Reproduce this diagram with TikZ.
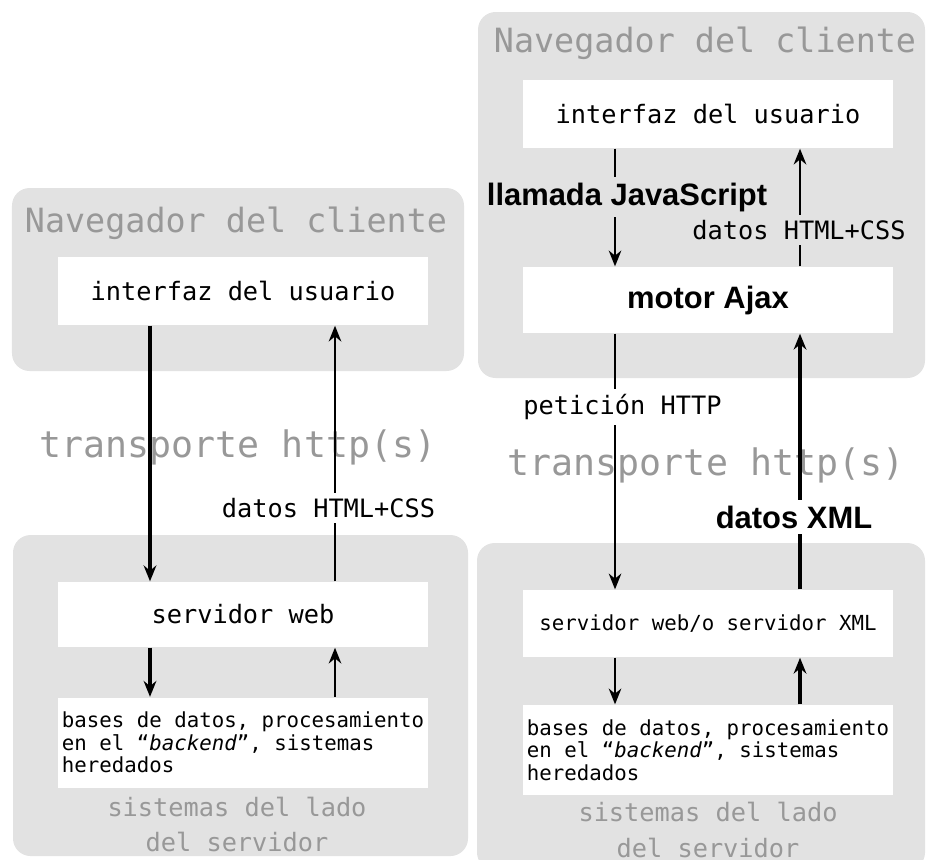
\documentclass[tikz,border=0pt]{standalone}
\usepackage{fontspec}
\setmainfont{DejaVu Sans Mono}
\newfontfamily\heavyfont{Liberation Sans}
\usetikzlibrary{arrows.meta}
\definecolor{panelgray}{RGB}{226,226,226}
\definecolor{textgray}{RGB}{152,152,152}
\tikzset{
  panel/.style={fill=panelgray, rounded corners=5pt},
  whitebox/.style={fill=white, minimum width=3.7cm, inner sep=0pt, font=\fontsize{7.2}{8}\selectfont},
  dbbox/.style={whitebox, minimum height=0.9cm, align=left, font=\fontsize{5.9}{6.4}\selectfont},
  title/.style={text=textgray, font=\fontsize{9.5}{11}\selectfont},
  transp/.style={text=textgray, font=\fontsize{10.4}{12}\selectfont},
  side/.style={text=textgray, align=center, font=\fontsize{7.2}{10}\selectfont},
  lbl/.style={inner sep=1.5pt, font=\fontsize{7.2}{8}\selectfont},
  boldlbl/.style={inner sep=1.5pt, font=\heavyfont\bfseries\fontsize{8.8}{10}\selectfont},
  flow/.style={-{Stealth[length=4.5pt,width=3.6pt]}, line width=0.5pt},
  heavyflow/.style={flow, line width=0.9pt},
}
\begin{document}
\begin{tikzpicture}
    \useasboundingbox (0,0) rectangle (9.28,-8.59);

    % Grey panels
    \fill[panel] (0.12,-1.88) rectangle (4.64,-3.71);
    \fill[panel] (0.13,-5.35) rectangle (4.68,-8.56);
    \fill[panel] (4.78,-0.12) rectangle (9.25,-3.78);
    \fill[panel] (4.77,-5.43) rectangle (9.25,-8.70);

    % Classic model (left)
    \node[title] (nav1) at (2.36,-2.23) {Navegador del cliente};
    \node[whitebox, minimum height=0.68cm] (ui1) at (2.43,-2.91) {interfaz del usuario};
    \node[transp] (trans1) at (2.38,-4.47) {transporte http(s)};
    \node[whitebox, minimum height=0.65cm] (web1) at (2.43,-6.145) {servidor web};
    \node[dbbox] (db1) at (2.43,-7.425) {bases de datos, procesamiento\\en el “\textit{backend}”, sistemas\\heredados};
    \node[side] (side1) at (2.37,-8.245) {sistemas del lado\\del servidor};

    \draw[heavyflow] ([xshift=-0.93cm]ui1.south) -- ([xshift=-0.93cm]web1.north);
    \draw[flow] ([xshift=0.92cm]web1.north) -- ([xshift=0.92cm]ui1.south);
    \draw[heavyflow] ([xshift=-0.93cm]web1.south) -- ([xshift=-0.93cm]db1.north);
    \draw[flow] ([xshift=0.92cm]db1.north) -- ([xshift=0.92cm]web1.south);
    \node[lbl, fill=white] (html1) at (3.285,-5.08) {datos HTML+CSS};

    % Ajax model (right)
    \node[title] (nav2) at (7.05,-0.43) {Navegador del cliente};
    \node[whitebox, minimum height=0.68cm] (ui2) at (7.08,-1.14) {interfaz del usuario};
    \node[whitebox, minimum height=0.66cm, font=\heavyfont\bfseries\fontsize{8.8}{10}\selectfont] (ajax) at (7.08,-3.00) {motor Ajax};
    \node[transp] (trans2) at (7.06,-4.65) {transporte http(s)};
    \node[whitebox, minimum height=0.67cm, font=\fontsize{5.9}{7}\selectfont] (web2) at (7.08,-6.235) {servidor web/o servidor XML};
    \node[dbbox] (db2) at (7.08,-7.50) {bases de datos, procesamiento\\en el “\textit{backend}”, sistemas\\heredados};
    \node[side] (side2) at (7.08,-8.30) {sistemas del lado\\del servidor};

    \draw[flow] ([xshift=-0.93cm]ui2.south) -- ([xshift=-0.93cm]ajax.north);
    \draw[flow] ([xshift=0.92cm]ajax.north) -- ([xshift=0.92cm]ui2.south);
    \draw[flow] ([xshift=-0.93cm]ajax.south) -- ([xshift=-0.93cm]web2.north);
    \draw[heavyflow] ([xshift=0.92cm]web2.north) -- ([xshift=0.92cm]ajax.south);
    \draw[flow] ([xshift=-0.93cm]web2.south) -- ([xshift=-0.93cm]db2.north);
    \draw[heavyflow] ([xshift=0.92cm]db2.north) -- ([xshift=0.92cm]web2.south);
    \node[boldlbl, fill=panelgray] (js) at (6.27,-1.97) {llamada JavaScript};
    \node[lbl, fill=panelgray] (html2) at (7.99,-2.30) {datos HTML+CSS};
    \node[lbl, fill=white] (req) at (6.225,-4.07) {petición HTTP};
    \node[boldlbl, fill=white] (xml) at (7.94,-5.17) {datos XML};
\end{tikzpicture}
\end{document}
